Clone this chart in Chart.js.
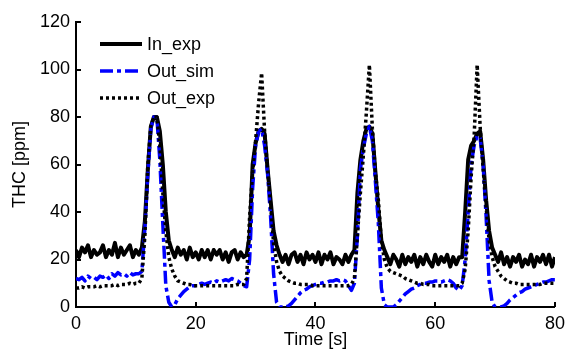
<!DOCTYPE html>
<html>
<head>
<meta charset="utf-8">
<script src="https://cdn.jsdelivr.net/npm/chart.js@4/dist/chart.umd.min.js"></script>
<style>
  html, body { margin: 0; padding: 0; background: #fff; }
  #wrap { width: 571px; height: 356px; }
</style>
</head>
<body>
<div id="wrap"><canvas id="thcChart" width="571" height="356"></canvas></div>
<script>
// time axis, 0.5 s sampling
const timeS = [
  0, 0.5, 1, 1.5, 2, 2.5, 3, 3.5, 4, 4.5, 5, 5.5, 6, 6.5, 7, 7.5, 8, 8.5, 9, 9.5, 10,
  10.5, 11, 11.5, 12, 12.5, 13, 13.5, 14, 14.5, 15, 15.5, 16, 16.5, 17, 17.5, 18, 18.5, 19, 19.5, 20,
  20.5, 21, 21.5, 22, 22.5, 23, 23.5, 24, 24.5, 25, 25.5, 26, 26.5, 27, 27.5, 28, 28.5, 29, 29.5, 30,
  30.5, 31, 31.5, 32, 32.5, 33, 33.5, 34, 34.5, 35, 35.5, 36, 36.5, 37, 37.5, 38, 38.5, 39, 39.5, 40,
  40.5, 41, 41.5, 42, 42.5, 43, 43.5, 44, 44.5, 45, 45.5, 46, 46.5, 47, 47.5, 48, 48.5, 49, 49.5, 50,
  50.5, 51, 51.5, 52, 52.5, 53, 53.5, 54, 54.5, 55, 55.5, 56, 56.5, 57, 57.5, 58, 58.5, 59, 59.5, 60,
  60.5, 61, 61.5, 62, 62.5, 63, 63.5, 64, 64.5, 65, 65.5, 66, 66.5, 67, 67.5, 68, 68.5, 69, 69.5, 70,
  70.5, 71, 71.5, 72, 72.5, 73, 73.5, 74, 74.5, 75, 75.5, 76, 76.5, 77, 77.5, 78, 78.5, 79, 79.5, 80
];

const inExp = [
  24, 21, 25, 23, 26, 21, 24, 22, 23, 26, 21, 24, 22, 27, 21, 25, 22, 24, 26, 21, 24,
  22, 25, 36, 58, 76, 80, 80, 74, 60, 40, 28, 24, 21, 25, 22, 24, 20, 25, 21, 23,
  20, 24, 21, 24, 20, 24, 22, 24, 20, 23, 19, 23, 24, 20, 23, 21, 22, 30, 60, 69,
  74, 75, 73, 58, 45, 32, 26, 22, 19, 22, 18, 22, 23, 19, 22, 18, 23, 20, 22, 19,
  23, 18, 22, 20, 23, 18, 21, 20, 18, 22, 19, 22, 24, 48, 62, 70, 75, 76, 73, 57,
  41, 28, 24, 21, 18, 22, 20, 17, 22, 18, 21, 19, 22, 17, 21, 18, 22, 19, 17, 22,
  18, 21, 19, 22, 17, 21, 18, 21, 21, 40, 62, 68, 70, 73, 74, 62, 45, 32, 25, 22,
  19, 23, 18, 21, 17, 21, 19, 22, 17, 20, 18, 22, 17, 21, 19, 22, 18, 22, 17, 21
];

const outSim = [
  12, 11.5, 12.5, 11, 13, 12, 12.5, 11.5, 13, 12.5, 13.5, 12, 14, 13, 14.5, 13.5, 14, 13, 14.5, 13.5, 14,
  14, 15, 33, 56, 75, 80, 80, 62, 35, 9, 2, 0, 1, 3.5, 5, 6.5, 7.5, 8.5, 9, 9,
  9.5, 10, 9.5, 10, 10.5, 10, 11, 10.5, 11, 11.5, 11, 12, 11.5, 11, 10, 9, 8.5, 20, 50, 68,
  74, 75, 68, 56, 38, 14, 2, 0, 0, 0, 0.5, 1.5, 3, 4.5, 6, 7, 7.5, 8.5, 9, 9.5,
  10, 10, 10.5, 10.5, 11, 11, 11.5, 11, 11.5, 11, 9, 7, 10, 30, 58, 67, 73, 76, 70, 53,
  35, 8, 1, 0, 0, 0, 1, 2.5, 4, 5.5, 6.5, 7.5, 8, 9, 9.5, 10, 10, 10.5, 10.5, 11,
  11, 10.5, 11, 11.5, 11, 10, 8, 7, 9, 20, 40, 60, 68, 72, 71, 60, 38, 11, 2, 0,
  0, 0, 0.5, 1.5, 3, 4, 5, 6, 6.5, 7.5, 8, 8.5, 9, 9.5, 10, 10.5, 10.5, 11, 11.5, 11.5
];

const outExp = [
  8, 8, 8.5, 8, 8.5, 8.5, 8.5, 9, 8.5, 9, 9, 9, 9, 9.5, 9, 9.5, 9.5, 9.5, 10, 9.5, 10,
  10, 12, 30, 60, 76, 80, 80, 68, 48, 32, 21, 16, 13, 11, 10.5, 10, 9.5, 9.5, 9, 9,
  9, 9, 9, 9, 9, 9, 9, 9, 9, 9, 9, 9, 9, 9.5, 9.5, 9.5, 12, 38, 57, 70,
  86, 98.5, 74, 58, 43, 27, 19, 15, 13, 12, 11, 10.5, 10, 10, 9.5, 9.5, 9.5, 9.5, 9, 9,
  9, 9, 9, 9, 9, 9, 9, 9, 9, 9, 9, 9.5, 12, 30, 48, 64, 82, 102, 75, 57,
  45, 28, 20, 16.5, 15, 14.5, 14, 13.5, 13, 12, 11.5, 11, 10.5, 10, 10, 9.5, 9.5, 9.5, 9, 9,
  9, 9, 9, 9, 9, 9, 9, 9, 10, 16, 32, 55, 72, 102, 76, 58, 42, 28, 21, 17,
  15, 13, 12, 11, 10.5, 10, 10, 9.5, 9.5, 9.5, 9.5, 9.5, 9.5, 9.5, 9.5, 10, 10, 10, 10, 10
];

const FONT = { family: '"Liberation Sans", Arial, sans-serif', size: 18 };

// legend drawn inside the plot, top-left, with line samples like the original
const insideLegend = {
  id: 'insideLegend',
  afterDraw(chart) {
    const c = chart.ctx;
    const x0 = 100, lineLen = 42, rows = [44, 71, 98];
    c.save();
    c.font = `${FONT.size}px ${FONT.family}`;
    c.textBaseline = 'middle';
    c.textAlign = 'left';
    chart.data.datasets.forEach((ds, i) => {
      const y = rows[i];
      c.beginPath();
      c.setLineDash(ds.borderDash || []);
      c.lineWidth = ds.borderWidth;
      c.strokeStyle = ds.borderColor;
      c.moveTo(x0, y);
      c.lineTo(x0 + lineLen, y);
      c.stroke();
      c.setLineDash([]);
      c.fillStyle = '#000';
      c.fillText(ds.label, x0 + lineLen + 5, y + 1);
    });
    c.restore();
  }
};

// small tick marks pointing into the plot (matlab style)
const inwardTicks = {
  id: 'inwardTicks',
  afterDraw(chart) {
    const c = chart.ctx, area = chart.chartArea;
    const xs = chart.scales.x, ys = chart.scales.y;
    c.save();
    c.strokeStyle = '#000';
    c.lineWidth = 2;
    c.beginPath();
    xs.ticks.forEach(t => {
      const px = Math.round(xs.getPixelForValue(t.value));
      c.moveTo(px, area.bottom);
      c.lineTo(px, area.bottom - 5);
    });
    ys.ticks.forEach(t => {
      const py = Math.round(ys.getPixelForValue(t.value));
      c.moveTo(area.left, py);
      c.lineTo(area.left + 5, py);
    });
    c.stroke();
    c.restore();
  }
};

const ctx = document.getElementById('thcChart').getContext('2d');
new Chart(ctx, {
  type: 'line',
  data: {
    labels: timeS,
    datasets: [
      { label: 'In_exp', data: inExp, borderColor: '#000', borderWidth: 4, order: 2 },
      { label: 'Out_sim', data: outSim, borderColor: '#0000ff', borderWidth: 3.5, borderDash: [13, 4, 4, 4], order: 1 },
      { label: 'Out_exp', data: outExp, borderColor: '#000', borderWidth: 3.5, borderDash: [3, 3], order: 0 },
    ]
  },
  options: {
    responsive: false,
    animation: false,
    devicePixelRatio: 1,
    layout: { padding: { top: 22, right: 13, left: 0, bottom: 0 } },
    elements: { point: { radius: 0 }, line: { tension: 0, borderJoinStyle: 'round' } },
    plugins: {
      tooltip: { enabled: false },
      legend: { display: false }
    },
    scales: {
      x: {
        type: 'linear', min: 0, max: 80,
        afterFit: s => { s.height = 49; },
        border: { color: '#000', width: 2 },
        grid: { drawOnChartArea: false, drawTicks: false },
        ticks: { stepSize: 20, color: '#000', font: FONT, padding: 6, maxRotation: 0 },
        title: { display: true, text: 'Time [s]', color: '#000', font: FONT, padding: { top: 0, bottom: 5 } }
      },
      y: {
        min: 0, max: 120,
        afterFit: s => { s.width = 76; },
        border: { color: '#000', width: 2 },
        grid: { drawOnChartArea: false, drawTicks: false },
        ticks: { stepSize: 20, color: '#000', font: FONT, padding: 6 },
        title: { display: true, text: 'THC [ppm]', color: '#000', font: FONT, padding: { top: 9, bottom: 0 } }
      }
    }
  },
  plugins: [insideLegend, inwardTicks]
});
</script>
</body>
</html>
